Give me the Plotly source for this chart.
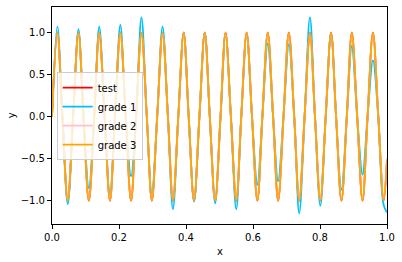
import plotly.graph_objects as go

# x positions of zero crossings / peaks / troughs
x_vals = [0.000, 0.016, 0.031, 0.047, 0.063, 0.079, 0.094, 0.110, 0.126, 0.141,
          0.157, 0.173, 0.188, 0.204, 0.220, 0.236, 0.251, 0.267, 0.283, 0.298,
          0.314, 0.330, 0.346, 0.361, 0.377, 0.393, 0.408, 0.424, 0.440, 0.456,
          0.471, 0.487, 0.503, 0.518, 0.534, 0.550, 0.565, 0.581, 0.597, 0.613,
          0.628, 0.644, 0.660, 0.675, 0.691, 0.707, 0.723, 0.738, 0.754, 0.770,
          0.785, 0.801, 0.817, 0.833, 0.848, 0.864, 0.880, 0.895, 0.911, 0.927,
          0.942, 0.958, 0.974, 0.990, 1.000]

test_vals = [0, 1, 0, -1, 0, 1, 0, -1, 0, 1, 0, -1, 0, 1, 0, -1,
             0, 1, 0, -1, 0, 1, 0, -1, 0, 1, 0, -1, 0, 1, 0, -1,
             0, 1, 0, -1, 0, 1, 0, -1, 0, 1, 0, -1, 0, 1, 0, -1,
             0, 1, 0, -1, 0, 1, 0, -1, 0, 1, 0, -1, 0, 1, 0, -1, -0.51]

grade1_vals = [0, 1.07, 0, -1.04, 0, 1.04, 0, -0.85, 0, 1.07, 0, -0.92, 0, 1.09, 0, -0.71,
               0, 1.18, 0, -0.91, 0, 1.07, 0, -1.10, 0, 1.00, 0, -1.01, 0, 1.00, 0, -1.03,
               0, 0.99, 0, -1.10, 0, 0.97, 0, -0.81, 0, 0.87, 0, -0.77, 0, 0.86, 0, -1.15,
               0, 1.18, 0, -1.06, 0, 0.99, 0, -0.87, 0, 0.84, 0, -0.69, 0, 0.67, 0, -1.05, -1.14]

grade2_vals = [0, 0.99, 0, -0.99, 0, 0.99, 0, -0.99, 0, 0.99, 0, -0.99, 0, 0.99, 0, -0.99,
               0, 0.99, 0, -0.99, 0, 0.99, 0, -0.99, 0, 0.99, 0, -0.99, 0, 0.99, 0, -0.99,
               0, 0.99, 0, -0.99, 0, 0.99, 0, -0.99, 0, 0.99, 0, -0.99, 0, 0.99, 0, -0.99,
               0, 0.99, 0, -0.99, 0, 0.99, 0, -0.99, 0, 0.99, 0, -0.99, 0, 0.99, 0, -0.99, -0.50]

grade3_vals = [0, 1, 0, -1, 0, 1, 0, -1, 0, 1, 0, -1, 0, 1, 0, -1,
               0, 1, 0, -1, 0, 1, 0, -1, 0, 1, 0, -1, 0, 1, 0, -1,
               0, 1, 0, -1, 0, 1, 0, -1, 0, 1, 0, -1, 0, 1, 0, -1,
               0, 1, 0, -1, 0, 1, 0, -1, 0, 1, 0, -1, 0, 1, 0, -1, -0.51]

series = [("test", test_vals, "red"),
          ("grade 1", grade1_vals, "#00BFFF"),
          ("grade 2", grade2_vals, "pink"),
          ("grade 3", grade3_vals, "orange")]

fig = go.Figure()
for name, vals, color in series:
    fig.add_trace(go.Scatter(x=x_vals, y=vals, mode="lines", name=name,
                             line=dict(color=color, width=1.8, shape="spline", smoothing=1.0)))

axis_common = dict(showgrid=False, zeroline=False, showline=True, linecolor="black",
                   linewidth=1, mirror=True, ticks="outside", ticklen=4, tickwidth=1,
                   tickcolor="black", tickformat=".1f",
                   tickfont=dict(family="DejaVu Sans", size=10, color="black"))

fig.update_layout(
    width=402, height=262,
    margin=dict(l=52, r=15, t=7, b=38),
    paper_bgcolor="white", plot_bgcolor="white",
    font=dict(family="DejaVu Sans", size=10, color="black"),
    xaxis=dict(range=[0, 1], dtick=0.2, **axis_common),
    yaxis=dict(range=[-1.277, 1.304], dtick=0.5, **axis_common),
    legend=dict(x=0.014, y=0.70, xanchor="left", yanchor="top",
                bgcolor="rgba(255,255,255,0.8)", bordercolor="#cccccc", borderwidth=1,
                font=dict(size=10), itemwidth=30, tracegroupgap=0),
    showlegend=True,
    annotations=[
        dict(text="x", xref="paper", yref="paper", x=0.5, y=-0.09, yanchor="top",
             xanchor="center", showarrow=False, font=dict(size=10)),
        dict(text="y", xref="paper", yref="paper", x=-0.12, y=0.5, xanchor="center",
             yanchor="middle", textangle=-90, showarrow=False, font=dict(size=10)),
    ],
)

fig.write_html("out.html", config={"displayModeBar": False},
               post_script="document.body.style.margin='0';")
